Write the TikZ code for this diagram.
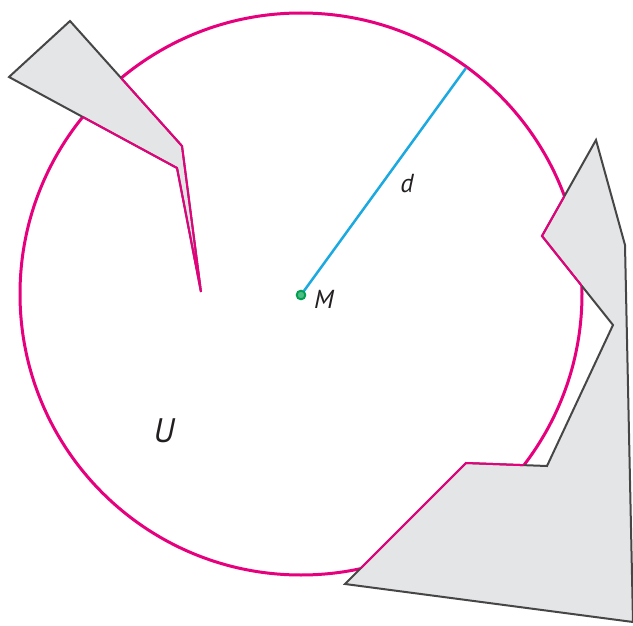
\documentclass[tikz,border=0pt]{standalone}
\usepackage{fontspec}
\setmainfont{PT Sans}
\definecolor{magentaC}{RGB}{230,0,126}
\definecolor{cyanC}{RGB}{27,169,224}
\definecolor{greenC}{RGB}{0,160,80}
\definecolor{greyFill}{RGB}{228,229,231}
\definecolor{greyLine}{RGB}{70,70,70}
\definecolor{textC}{RGB}{35,31,32}
\begin{document}
\begin{tikzpicture}[x=1pt,y=-1pt,
  boundary/.style={draw=magentaC,line width=3pt},
  obstacle/.style={fill=greyFill,draw=greyLine,line width=2pt,line join=miter},
  obstacleedge/.style={draw=magentaC,line width=2pt,line join=miter},
  radius line/.style={draw=cyanC,line width=2.5pt},
  lbl/.style={text=textC,font=\itshape\fontsize{26}{30}\selectfont,inner sep=0pt},
  biglbl/.style={text=textC,font=\itshape\fontsize{34}{38}\selectfont,inner sep=0pt},
  centre dot/.style={circle,fill=greenC!70,draw=greenC,line width=1.8pt,minimum size=8.5pt,inner sep=0pt}]
\useasboundingbox (0,0) rectangle (633,626);
% circle boundary of U
\draw[boundary] (301,294) circle[radius=281];
% obstacles
\def\polyA{(70,21) -- (9,77) -- (177,168) -- (201,292) -- (182,146) -- cycle}
\def\polyB{(596,140) -- (625,245) -- (633,622) -- (345,584) -- (466,463) -- (547,466) -- (613,325) -- (542,236) -- cycle}
\path[obstacle] \polyA;
\path[obstacle] \polyB;
\begin{scope}
  \clip (301,294) circle[radius=281];
  \path[obstacleedge] \polyA;
  \path[obstacleedge] \polyB;
\end{scope}
% radius
\coordinate (rimpt) at (466,68);
\node[centre dot] (M) at (301,295) {};
\draw[radius line] (M.center) -- (rimpt);
\node[centre dot] at (301,295) {};
\node[lbl] (Mlabel) at (324,299) {M};
\node[lbl] (dlabel) at (407,184) {d};
\node[biglbl] (Ulabel) at (164,431) {U};
\end{tikzpicture}
\end{document}
